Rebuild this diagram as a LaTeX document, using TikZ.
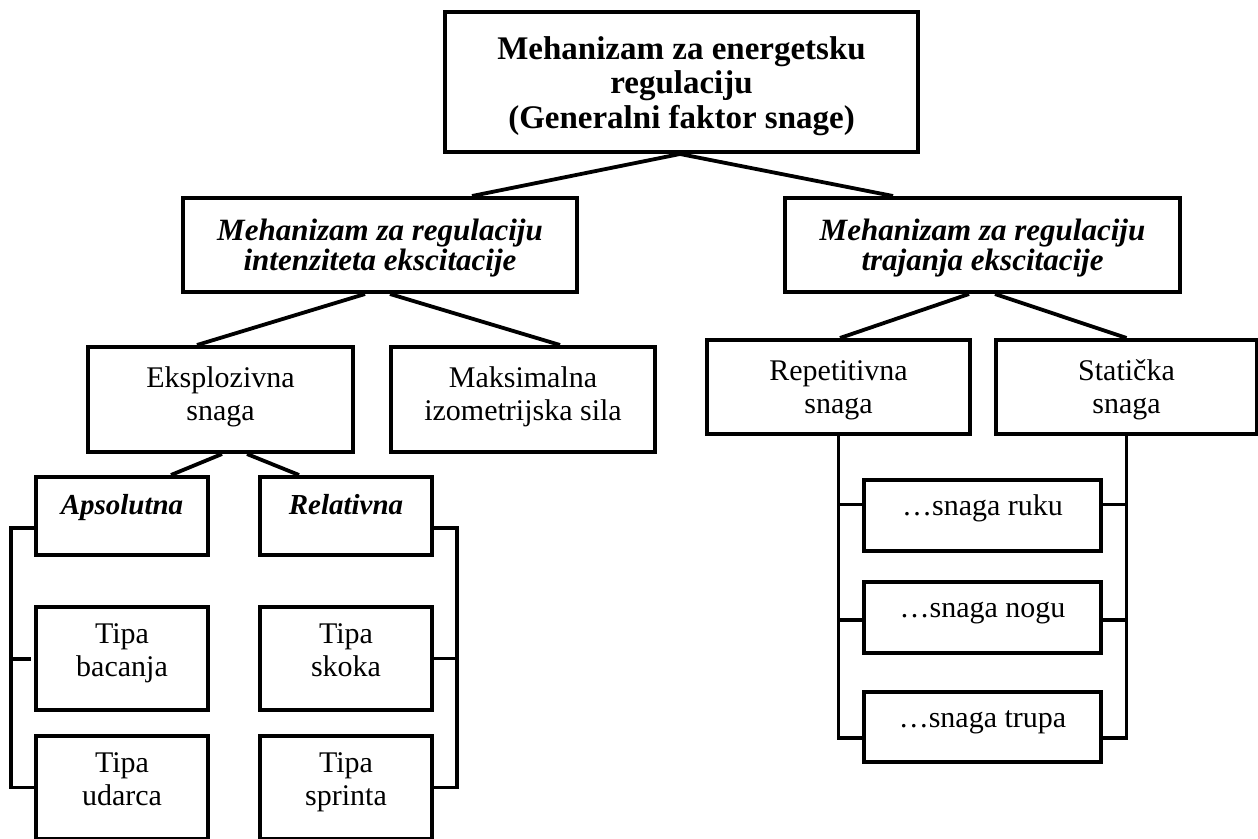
\documentclass[tikz,border=0pt]{standalone}
\usepackage{fontspec}
\setmainfont{Liberation Serif}
\usetikzlibrary{calc}
% first line's baseline placed #1pt above the node centre
\newcommand\mystack[2]{\raisebox{#1pt}[0pt][0pt]{\begin{tabular}[t]{@{}c@{}}#2\end{tabular}}}
\begin{document}
\begin{tikzpicture}[x=1pt,y=-1pt,
  box/.style={draw, line width=4pt, inner sep=0pt, anchor=center},
  conn/.style={line width=3.8pt},
  topfont/.style={font=\fontsize{33}{34.5}\selectfont\bfseries},
  midfont/.style={font=\fontsize{31}{29.5}\selectfont\bfseries\itshape},
  regfont/.style={font=\fontsize{30}{33}\selectfont},
  smallbi/.style={font=\fontsize{29}{33}\selectfont\bfseries\itshape},
]
\clip (0,0) rectangle (1258,838);
\fill[white] (0,0) rectangle (1258,838);

% top
\node[box, topfont, minimum width=473, minimum height=140] (top) at (681.5,82)
  {\mystack{22.7}{Mehanizam za energetsku\\regulaciju\\(Generalni faktor snage)}};

% level 2
\node[box, midfont, minimum width=394, minimum height=94] (midL) at (380,245)
  {\mystack{5}{Mehanizam za regulaciju\\intenziteta ekscitacije}};
\node[box, midfont, minimum width=395, minimum height=94] (midR) at (982.5,245)
  {\mystack{5}{Mehanizam za regulaciju\\trajanja ekscitacije}};

% level 3
\node[box, regfont, minimum width=265, minimum height=105] (eks) at (220.5,399.5)
  {\mystack{12.5}{Eksplozivna\\snaga}};
\node[box, regfont, minimum width=264, minimum height=105] (mak) at (523,399.5)
  {\mystack{12.5}{Maksimalna\\izometrijska sila}};
\node[box, regfont, minimum width=263, minimum height=94] (rep) at (838.5,387)
  {\mystack{7}{Repetitivna\\snaga}};
\node[box, regfont, minimum width=261, minimum height=94] (sta) at (1126.5,387)
  {\mystack{7}{Statička\\snaga}};

% level 4 left
\node[box, smallbi, minimum width=172, text height=37, text depth=41] (aps) at (122,516)
  {Apsolutna};
\node[box, smallbi, minimum width=172, text height=37, text depth=41] (rel) at (346,516)
  {Relativna};
\node[box, regfont, minimum width=172, minimum height=103] (bac) at (122,658.5)
  {\mystack{15.5}{Tipa\\bacanja}};
\node[box, regfont, minimum width=172, minimum height=103] (sko) at (346,658.5)
  {\mystack{15.5}{Tipa\\skoka}};
\node[box, regfont, minimum width=172, minimum height=103] (uda) at (122,787.5)
  {\mystack{15.5}{Tipa\\udarca}};
\node[box, regfont, minimum width=172, minimum height=103] (spr) at (346,787.5)
  {\mystack{15.5}{Tipa\\sprinta}};

% level 4 right
\node[box, regfont, minimum width=237, text height=35, text depth=36] (ruku) at (982.5,515.5)
  {…snaga ruku};
\node[box, regfont, minimum width=237, text height=35, text depth=36] (nogu) at (982.5,617.5)
  {…snaga nogu};
\node[box, regfont, minimum width=237, text height=35, text depth=35] (trupa) at (982.5,727)
  {…snaga trupa};

% connectors top -> level 2
\draw[conn] ([xshift=-1.5]top.south) -- ([xshift=92]midL.north);
\draw[conn] ([xshift=-1.5]top.south) -- ([xshift=-89.5]midR.north);

% level 2 -> level 3
\draw[conn] ([xshift=-15]midL.south) -- ([xshift=-23.5]eks.north);
\draw[conn] ([xshift=10]midL.south) -- ([xshift=37]mak.north);
\draw[conn] ([xshift=-13.5]midR.south) -- ([xshift=1.5]rep.north);
\draw[conn] ([xshift=12.5]midR.south) -- (sta.north);

% level 3 -> level 4
\draw[conn] ([xshift=1.5]eks.south) -- ([xshift=49]aps.north);
\draw[conn] ([xshift=26.5]eks.south) -- ([xshift=-47]rel.north);

% left brackets
\coordinate (lx) at (11,0);
\coordinate (rx) at (457,0);
\coordinate (ltick) at (31,659);
\draw[conn] ([yshift=-12]aps.west) -| (lx |- uda.west) -- (uda.west);
\draw[conn] (lx |- ltick) -- (ltick);
\draw[conn] ([yshift=-12]rel.east) -| (rx |- spr.east) -- (spr.east);
\draw[conn] (sko.east) -- (rx |- sko.east);

% right brackets
\coordinate (r1) at ([yshift=11]ruku.west);
\coordinate (r2) at ([yshift=-2.5]nogu.west);
\coordinate (r3) at ([yshift=-11]trupa.west);
\coordinate (s1) at ([yshift=11]ruku.east);
\coordinate (s2) at ([yshift=-2.5]nogu.east);
\coordinate (s3) at ([yshift=-11]trupa.east);
\draw[conn] (rep.south) |- (r3);
\draw[conn] (r1) -- (rep.south |- r1);
\draw[conn] (r2) -- (rep.south |- r2);
\draw[conn] (sta.south) |- (s3);
\draw[conn] (s1) -- (sta.south |- s1);
\draw[conn] (s2) -- (sta.south |- s2);
\end{tikzpicture}
\end{document}
